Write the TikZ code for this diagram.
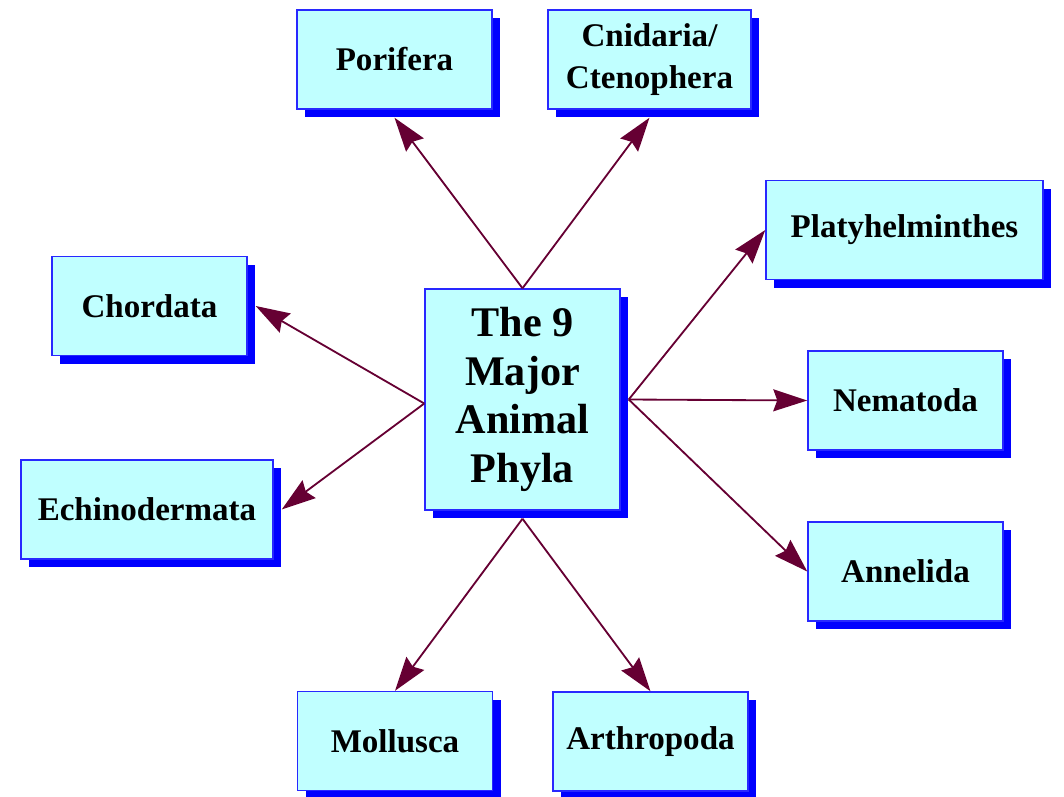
\documentclass[tikz,border=0pt]{standalone}
\usepackage{fontspec}
\setmainfont{Liberation Serif}
\usetikzlibrary{arrows.meta,shadows}
\definecolor{boxfill}{RGB}{192,255,255}
\definecolor{boxline}{RGB}{40,40,255}
\definecolor{linkcol}{RGB}{102,0,51}
\tikzset{
	phylum/.style={rectangle,draw=boxline,fill=boxfill,line width=1pt,inner sep=0pt,minimum width=4.875cm,minimum height=2.475cm,align=center,font=\bfseries\fontsize{23.5}{30}\selectfont,drop shadow={shadow xshift=0.21cm,shadow yshift=-0.21cm,fill=blue,opacity=1}},
	hub/.style={phylum,minimum height=5.525cm,font=\bfseries\fontsize{30}{34.5}\selectfont},
	diredge/.style={-{Stealth[length=0.85cm,width=0.55cm,inset=0.1cm,fill=linkcol]},color=linkcol,line width=1.3pt}
}
\begin{document}
\begin{tikzpicture}[x=0.025cm,y=-0.025cm]
		\useasboundingbox (0,0) rectangle (1064,796);
		%%% centre
		\node[hub] (phyla) at (522.5,399.5) {The 9\\Major\\Animal\\Phyla};
		
		%%% the nine phyla
		\node[phylum] (por) at (394.5,59.5) {Porifera};
		\node[phylum,minimum width=5.075cm] (cni) at (649.5,59.5) {Cnidaria/\\Ctenophera};
		\node[phylum,minimum width=6.925cm] (pla) at (904.5,230) {Platyhelminthes};
		\node[phylum] (cho) at (149.5,306) {Chordata};
		\node[phylum] (nem) at (905.5,400.5) {Nematoda};
		\node[phylum,minimum width=6.3cm] (ech) at (147,509.5) {Echinodermata};
		\node[phylum] (ann) at (905.5,571.5) {Annelida};
		\node[phylum] (mol) at (395,741) {Mollusca};
		\node[phylum] (art) at (650.5,741.5) {Arthropoda};
		
		\draw[diredge] (phyla.north) -- ([yshift=-2mm]por.south);
		\draw[diredge] (phyla.north) -- ([yshift=-2mm]cni.south);
		\draw[diredge] ([yshift=-1mm]phyla.west) -- ([xshift=2mm]cho.east);
		\draw[diredge] ([yshift=-1mm]phyla.west) -- ([xshift=2mm]ech.east);
		\draw[diredge] ([xshift=2mm]phyla.east) -- (pla.west);
		\draw[diredge] ([xshift=2mm]phyla.east) -- (nem.west);
		\draw[diredge] ([xshift=2mm]phyla.east) -- (ann.west);
		\draw[diredge] ([yshift=-2mm]phyla.south) -- (mol.north);
		\draw[diredge] ([yshift=-2mm]phyla.south) -- (art.north);
	\end{tikzpicture}
\end{document}
